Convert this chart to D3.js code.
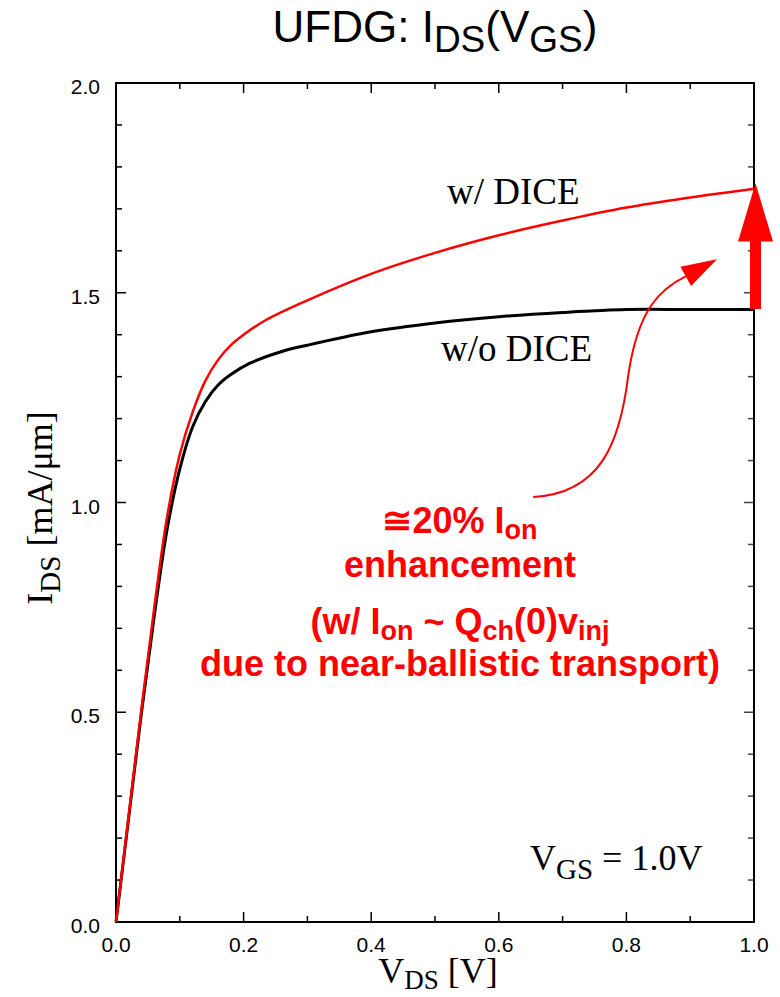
<!DOCTYPE html>
<html>
<head>
<meta charset="utf-8">
<script src="https://cdn.jsdelivr.net/npm/d3@7"></script>
<style>
  body { margin: 0; background: #fff; }
  svg { display: block; }
  .sans { font-family: "Liberation Sans", Arial, sans-serif; }
  .serif { font-family: "Liberation Serif", "Times New Roman", serif; }
</style>
</head>
<body>
<div id="chart"></div>
<script>
// V_DS [V], I_DS [mA/um]
var noDice = [
  [0, 0], [0.02, 0.25], [0.04, 0.5], [0.06, 0.73], [0.08, 0.935], [0.1, 1.08],
  [0.12, 1.18], [0.14, 1.24], [0.16, 1.28], [0.18, 1.305], [0.21, 1.332],
  [0.26, 1.36], [0.3, 1.375], [0.4, 1.407], [0.5, 1.428], [0.6, 1.443],
  [0.7, 1.453], [0.8, 1.46], [0.9, 1.46], [1.0, 1.46]
];
var withDice = [
  [0, 0], [0.02, 0.255], [0.04, 0.51], [0.06, 0.75], [0.08, 0.965], [0.1, 1.115],
  [0.12, 1.215], [0.14, 1.29], [0.16, 1.34], [0.18, 1.375], [0.2, 1.4],
  [0.235, 1.435], [0.3, 1.482], [0.4, 1.545], [0.5, 1.595], [0.6, 1.637],
  [0.7, 1.672], [0.8, 1.703], [0.9, 1.727], [1.0, 1.748]
];
var xTickLabels = [0, 0.2, 0.4, 0.6, 0.8, 1.0];
var yTickLabels = [0, 0.5, 1.0, 1.5, 2.0];

// annotation anchor points (data units)
var bigArrow = { v: 1.0, from: 1.461, base: 1.622, tip: 1.761 };
var curvedArrow = [[0.654, 1.013], [0.759, 1.022], [0.79, 1.14], [0.803, 1.304],
                   [0.818, 1.459], [0.852, 1.509], [0.893, 1.539], [0.942, 1.58]];
var noteLines = ["≅20% I|on", "enhancement", "(w/ I|on| ~ Q|ch|(0)v|inj", "due to near-ballistic transport)"];

var W = 780, H = 997;
var margin = { top: 83, right: 26, bottom: 75, left: 116 };
var width = W - margin.left - margin.right,
    height = H - margin.top - margin.bottom;

var svg = d3.select("#chart").append("svg")
  .attr("width", W).attr("height", H);

var x = d3.scaleLinear().domain([0, 1]).range([0, width]);
var y = d3.scaleLinear().domain([0, 2]).range([height, 0]);

var g = svg.append("g")
  .attr("transform", "translate(" + margin.left + "," + margin.top + ")");

// ticks on all four sides, pointing in
var xMinor = d3.range(0, 1.0001, 0.1);
var yMinor = d3.range(0, 2.0001, 0.1);
function isMajor(v, step) { return Math.abs(v / step - Math.round(v / step)) < 1e-6; }

g.selectAll(".xt").data(xMinor).enter().append("line")
  .attr("x1", d => x(d)).attr("x2", d => x(d))
  .attr("y1", height).attr("y2", d => height - (isMajor(d, 0.2) ? 10 : 6))
  .attr("stroke", "#000").attr("stroke-width", 1.5);
g.selectAll(".xtt").data(xMinor).enter().append("line")
  .attr("x1", d => x(d)).attr("x2", d => x(d))
  .attr("y1", 0).attr("y2", d => (isMajor(d, 0.2) ? 10 : 6))
  .attr("stroke", "#000").attr("stroke-width", 1.5);
g.selectAll(".yt").data(yMinor).enter().append("line")
  .attr("y1", d => y(d)).attr("y2", d => y(d))
  .attr("x1", 0).attr("x2", d => (isMajor(d, 0.5) ? 10 : 6))
  .attr("stroke", "#000").attr("stroke-width", 1.5);
g.selectAll(".ytr").data(yMinor).enter().append("line")
  .attr("y1", d => y(d)).attr("y2", d => y(d))
  .attr("x1", width).attr("x2", d => width - (isMajor(d, 0.5) ? 10 : 6))
  .attr("stroke", "#444").attr("stroke-width", 1.5);

// frame
g.append("rect").attr("width", width).attr("height", height)
  .attr("fill", "none").attr("stroke", "#000").attr("stroke-width", 2);

// tick labels
g.selectAll(".xl").data(xTickLabels).enter().append("text")
  .attr("class", "sans")
  .attr("x", d => x(d)).attr("y", height + 30)
  .attr("text-anchor", "middle").attr("font-size", 21)
  .text(d => d3.format(".1f")(d));
g.selectAll(".yl").data(yTickLabels).enter().append("text")
  .attr("class", "sans")
  .attr("x", -16).attr("y", d => y(d) + 11)
  .attr("text-anchor", "end").attr("font-size", 21)
  .text(d => d3.format(".1f")(d));

// curves
var line = d3.line().x(d => x(d[0])).y(d => y(d[1])).curve(d3.curveCatmullRom.alpha(0.5));
g.append("path").datum(noDice).attr("d", line)
  .attr("fill", "none").attr("stroke", "#000").attr("stroke-width", 3);
g.append("path").datum(withDice).attr("d", line)
  .attr("fill", "none").attr("stroke", "#ff0000").attr("stroke-width", 2.5);

// big vertical arrow
var ax = x(bigArrow.v) + 1.5;
var shaftW = 5.5, headW = 17.5;
var bp = [
  [ax - shaftW, y(bigArrow.from)], [ax - shaftW, y(bigArrow.base)],
  [ax - headW, y(bigArrow.base)], [ax, y(bigArrow.tip)],
  [ax + headW, y(bigArrow.base)], [ax + shaftW, y(bigArrow.base)],
  [ax + shaftW, y(bigArrow.from)]
];
g.append("path").attr("d", "M" + bp.map(p => p.join(",")).join("L") + "Z")
  .attr("fill", "#ff0000");

// curved arrow
var cp = curvedArrow.map(d => [x(d[0]), y(d[1])]);
var pth = d3.path();
pth.moveTo(cp[0][0], cp[0][1]);
pth.bezierCurveTo(cp[1][0], cp[1][1], cp[2][0], cp[2][1], cp[3][0], cp[3][1]);
pth.bezierCurveTo(cp[4][0], cp[4][1], cp[5][0], cp[5][1], cp[6][0], cp[6][1]);
g.append("path").attr("d", pth.toString())
  .attr("fill", "none").attr("stroke", "#ff0000").attr("stroke-width", 2);
// arrow head
var tipP = cp[7], baseP = cp[6];
var dx = tipP[0] - baseP[0], dy = tipP[1] - baseP[1];
var len = Math.sqrt(dx * dx + dy * dy);
var ux = dx / len, uy = dy / len;
var hw = 11;
var headPts = [
  tipP,
  [baseP[0] + uy * hw, baseP[1] - ux * hw],
  [baseP[0] - uy * hw, baseP[1] + ux * hw]
];
g.append("path").attr("d", "M" + headPts.map(p => p.join(",")).join("L") + "Z")
  .attr("fill", "#ff0000");

// helper for text with subscripts: segments separated by "|", odd ones are subscripts
function richText(sel, str, size, subSize, shift) {
  var parts = str.split("|");
  parts.forEach(function (p, i) {
    if (!p) return;
    var t = sel.append("tspan").text(p);
    if (i % 2 === 1) {
      t.attr("font-size", subSize).attr("dy", shift);
    } else if (i > 0) {
      t.attr("dy", -shift);
    }
  });
  return sel;
}

// series labels
g.append("text").attr("class", "serif").attr("x", 331).attr("y", 121)
  .attr("font-size", 37).text("w/ DICE");
g.append("text").attr("class", "serif").attr("x", 325).attr("y", 278)
  .attr("font-size", 37).text("w/o DICE");
richText(g.append("text").attr("class", "serif").attr("x", 414).attr("y", 787)
  .attr("font-size", 36), "V|GS| = 1.0V", 36, 29, 9);

// red annotation
var noteY = [450, 494, 551, 593];
noteLines.forEach(function (s, i) {
  richText(g.append("text").attr("class", "sans")
    .attr("x", 344).attr("y", noteY[i])
    .attr("text-anchor", "middle").attr("font-weight", "bold")
    .attr("font-size", 36).attr("fill", "#ff0000"), s, 36, 27, 6);
});

// title
richText(svg.append("text").attr("class", "sans").attr("x", 435).attr("y", 42)
  .attr("text-anchor", "middle").attr("font-size", 44), "UFDG: I|DS|(V|GS|)", 44, 37, 10);

// axis titles
richText(svg.append("text").attr("class", "serif").attr("x", 438).attr("y", 983)
  .attr("text-anchor", "middle").attr("font-size", 36), "V|DS| [V]", 36, 27, 6);
richText(svg.append("text").attr("class", "serif")
  .attr("transform", "translate(52,508) rotate(-90)")
  .attr("text-anchor", "middle").attr("font-size", 36), "I|DS| [mA/μm]", 36, 29, 8);
</script>
</body>
</html>
